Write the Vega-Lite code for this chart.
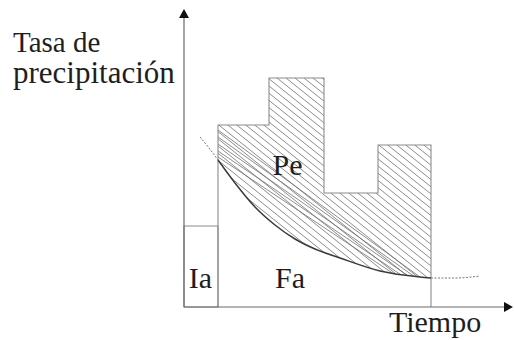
{
  "$schema": "https://vega.github.io/schema/vega-lite/v6.json",
  "width": 514,
  "height": 340,
  "padding": 0,
  "autosize": {"type": "none"},
  "background": "white",
  "config": {"view": {"stroke": null}, "text": {"font": "Liberation Serif"}},
  "datasets": {
    "hatch": [
      {"x":3.4,"y":12.5,"x2":24.7,"y2":-4.54},{"x":3.4,"y":13.22,"x2":24.7,"y2":-3.82},
      {"x":3.4,"y":13.94,"x2":24.7,"y2":-3.1},{"x":3.4,"y":14.66,"x2":24.7,"y2":-2.38},
      {"x":3.4,"y":15.38,"x2":24.7,"y2":-1.66},{"x":3.4,"y":16.1,"x2":24.7,"y2":-0.94},
      {"x":3.4,"y":16.82,"x2":24.7,"y2":-0.22},{"x":3.4,"y":17.54,"x2":24.7,"y2":0.5},
      {"x":3.4,"y":18.26,"x2":24.7,"y2":1.22},{"x":3.4,"y":18.98,"x2":24.7,"y2":1.94},
      {"x":3.4,"y":19.7,"x2":24.7,"y2":2.66},{"x":3.4,"y":20.42,"x2":24.7,"y2":3.38},
      {"x":3.4,"y":21.14,"x2":24.7,"y2":4.1},{"x":3.4,"y":21.86,"x2":24.7,"y2":4.82},
      {"x":3.4,"y":22.58,"x2":24.7,"y2":5.54},{"x":3.4,"y":23.3,"x2":24.7,"y2":6.26},
      {"x":3.4,"y":24.02,"x2":24.7,"y2":6.98},{"x":3.4,"y":24.74,"x2":24.7,"y2":7.7},
      {"x":3.4,"y":25.46,"x2":24.7,"y2":8.42},{"x":3.4,"y":26.18,"x2":24.7,"y2":9.14},
      {"x":3.4,"y":26.9,"x2":24.7,"y2":9.86},{"x":3.4,"y":27.62,"x2":24.7,"y2":10.58},
      {"x":3.4,"y":28.34,"x2":24.7,"y2":11.3},{"x":3.4,"y":29.06,"x2":24.7,"y2":12.02},
      {"x":3.4,"y":29.78,"x2":24.7,"y2":12.74},{"x":3.4,"y":30.5,"x2":24.7,"y2":13.46},
      {"x":3.4,"y":31.22,"x2":24.7,"y2":14.18},{"x":3.4,"y":31.94,"x2":24.7,"y2":14.9},
      {"x":3.4,"y":32.66,"x2":24.7,"y2":15.62},{"x":3.4,"y":33.38,"x2":24.7,"y2":16.34},
      {"x":3.4,"y":15.0,"x2":21.0,"y2":3.3},{"x":3.4,"y":15.6,"x2":21.8,"y2":3.15},
      {"x":3.4,"y":16.3,"x2":22.5,"y2":3.05},{"x":3.4,"y":17.0,"x2":23.1,"y2":3.0},
      {"x":3.4,"y":17.7,"x2":23.6,"y2":3.0}
    ],
    "bars": [
      {"x":3.4,"x2":8.5,"y":18.2},
      {"x":8.5,"x2":14.0,"y":22.9},
      {"x":14.0,"x2":19.4,"y":11.4},
      {"x":19.4,"x2":24.7,"y":16.2}
    ],
    "outline": [
      {"x":3.4,"y":0,"o":1},{"x":3.4,"y":18.2,"o":2},{"x":8.5,"y":18.2,"o":3},
      {"x":8.5,"y":22.9,"o":4},{"x":14.0,"y":22.9,"o":5},{"x":14.0,"y":11.4,"o":6},
      {"x":19.4,"y":11.4,"o":7},{"x":19.4,"y":16.2,"o":8},{"x":24.7,"y":16.2,"o":9},
      {"x":24.7,"y":0,"o":10}
    ],
    "ia": [{"x":0,"x2":3.4,"y":8.1,"y2":0}],
    "curve": [
      {"part":"left","x":1.6,"y":17.0},{"part":"left","x":2.5,"y":15.9},{"part":"left","x":3.4,"y":14.7},
      {"part":"solid","x":3.4,"y":14.7},{"part":"solid","x":5.1,"y":12.4},{"part":"solid","x":7.1,"y":10.0},
      {"part":"solid","x":9.1,"y":8.2},{"part":"solid","x":11.1,"y":6.8},{"part":"solid","x":13.1,"y":5.8},
      {"part":"solid","x":15.6,"y":4.9},{"part":"solid","x":19.6,"y":3.6},{"part":"solid","x":23.6,"y":3.0},
      {"part":"solid","x":24.7,"y":2.9},
      {"part":"right","x":24.7,"y":2.9},{"part":"right","x":27.1,"y":2.9},{"part":"right","x":29.6,"y":3.1}
    ],
    "axes": [
      {"x":0,"y":0,"x2":0,"y2":29.5},
      {"x":0,"y":0,"x2":32.4,"y2":0}
    ],
    "arrowUp": [{"x":0,"y":29.35}],
    "arrowRight": [{"x":32.45,"y":0}],
    "labelsTitle1": [{"x":-17.1,"y":25.5,"text":"Tasa de"}],
    "labelsTitle2": [{"x":-17.1,"y":22.4,"text":"precipitación"}],
    "labelsInner": [
      {"x":10.35,"y":13.2,"text":"Pe"},
      {"x":10.6,"y":1.9,"text":"Fa"},
      {"x":1.65,"y":1.9,"text":"Ia"},
      {"x":25.1,"y":-2.5,"text":"Tiempo"}
    ]
  },
  "encoding": {
    "x": {"field":"x","type":"quantitative","scale":{"domain":[-18.4,33.0],"nice":false,"zero":false},"axis":null},
    "y": {"field":"y","type":"quantitative","scale":{"domain":[-3.3,30.7],"nice":false,"zero":false},"axis":null}
  },
  "layer": [
    {
      "data": {"name":"hatch"},
      "mark": {"type":"rule","stroke":"#6e6e6e","strokeWidth":0.8},
      "encoding": {"x2":{"field":"x2"},"y2":{"field":"y2"}}
    },
    {
      "data": {"name":"bars"},
      "mark": {"type":"rect","fill":"white","stroke":null},
      "encoding": {"x2":{"field":"x2"},"y2":{"datum":32}}
    },
    {
      "data": {"name":"curve"},
      "transform": [{"filter":"datum.part === 'solid'"}],
      "mark": {"type":"area","fill":"white","interpolate":"monotone","opacity":1},
      "encoding": {"y2":{"datum":-4}}
    },
    {
      "data": {"name":"outline"},
      "mark": {"type":"line","stroke":"#8c8c8c","strokeWidth":1.1},
      "encoding": {"order":{"field":"o","type":"quantitative"}}
    },
    {
      "data": {"name":"ia"},
      "mark": {"type":"rect","fill":null,"stroke":"#8c8c8c","strokeWidth":1.1},
      "encoding": {"x2":{"field":"x2"},"y2":{"field":"y2"}}
    },
    {
      "data": {"name":"curve"},
      "transform": [{"filter":"datum.part === 'solid'"}],
      "mark": {"type":"line","stroke":"#3a3a3a","strokeWidth":1.5,"interpolate":"monotone"}
    },
    {
      "data": {"name":"curve"},
      "transform": [{"filter":"datum.part !== 'solid'"}],
      "mark": {"type":"line","stroke":"#777777","strokeWidth":1,"strokeDash":[2,1.5],"interpolate":"monotone"},
      "encoding": {"detail":{"field":"part"}}
    },
    {
      "data": {"name":"axes"},
      "mark": {"type":"rule","stroke":"#6a6a6a","strokeWidth":1.2},
      "encoding": {"x2":{"field":"x2"},"y2":{"field":"y2"}}
    },
    {
      "data": {"name":"arrowUp"},
      "mark": {"type":"point","shape":"M0,-0.9L1,0.9L-1,0.9Z","size":100,"filled":true,"fill":"#111111","stroke":null,"opacity":1}
    },
    {
      "data": {"name":"arrowRight"},
      "mark": {"type":"point","shape":"M0.9,0L-0.9,1L-0.9,-1Z","size":100,"filled":true,"fill":"#111111","stroke":null,"opacity":1}
    },
    {
      "data": {"name":"labelsTitle1"},
      "mark": {"type":"text","font":"Liberation Serif","fontSize":29,"align":"left","baseline":"alphabetic","fill":"#1e1e1e"},
      "encoding": {"text":{"field":"text"}}
    },
    {
      "data": {"name":"labelsTitle2"},
      "mark": {"type":"text","font":"Liberation Serif","fontSize":31,"align":"left","baseline":"alphabetic","fill":"#1e1e1e"},
      "encoding": {"text":{"field":"text"}}
    },
    {
      "data": {"name":"labelsInner"},
      "mark": {"type":"text","font":"Liberation Serif","fontSize":30,"align":"center","baseline":"alphabetic","fill":"#1e1e1e"},
      "encoding": {"text":{"field":"text"}}
    }
  ]
}
